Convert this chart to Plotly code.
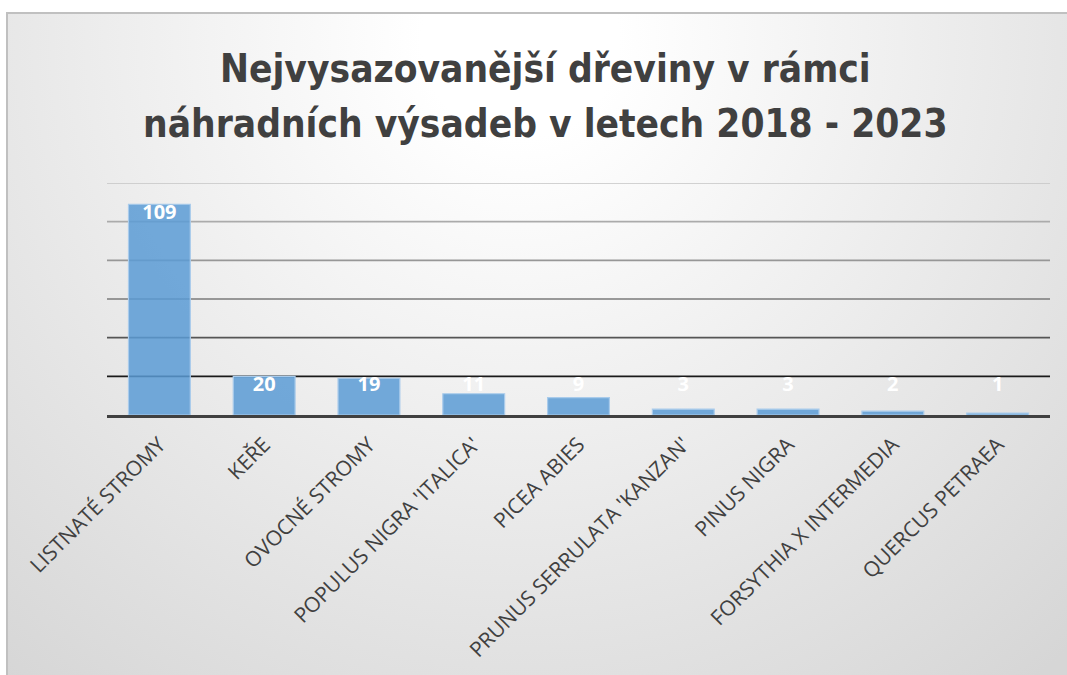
import base64
import numpy as np
import plotly.graph_objects as go

categories = ["LISTNATÉ STROMY", "KEŘE", "OVOCNÉ STROMY", "POPULUS NIGRA 'ITALICA'",
              "PICEA ABIES", "PRUNUS SERRULATA 'KANZAN'", "PINUS NIGRA",
              "FORSYTHIA X INTERMEDIA", "QUERCUS PETRAEA"]
values = [109, 20, 19, 11, 9, 3, 3, 2, 1]
grid_values = [20, 40, 60, 80, 100, 120]
grid_colors = ["#1a1a1a", "#555555", "#7a7a7a", "#979797", "#ababab", "#c4c4c4"]
title_lines = ["Nejvysazovanější dřeviny v rámci", "náhradních výsadeb v letech 2018 - 2023"]

W, H = 1067, 675
ML, MR, MT, MB = 107, 17, 183, 260
PW, PH = W - ML - MR, H - MT - MB

svg = f'''<svg xmlns="http://www.w3.org/2000/svg" width="{W}" height="{H}" viewBox="0 0 {W} {H}">
<defs><radialGradient id="g" gradientUnits="userSpaceOnUse" cx="520" cy="40" r="820">
<stop offset="0" stop-color="#ffffff"/><stop offset="0.12" stop-color="#ffffff"/>
<stop offset="1" stop-color="#d6d6d6"/></radialGradient></defs>
<rect x="0" y="0" width="{W}" height="{H}" fill="#ffffff"/>
<rect x="7" y="13" width="{W+20}" height="{H+20}" fill="url(#g)" stroke="#c0c0c0" stroke-width="2"/>
</svg>'''
src = "data:image/svg+xml;base64," + base64.b64encode(svg.encode()).decode()

fig = go.Figure()
fig.add_trace(go.Bar(
    x=categories, y=values,
    marker=dict(color="rgba(91,155,213,0.85)", line=dict(color="#a9cbeb", width=1.2)),
    hoverinfo="x+y",
))
label_y = np.maximum(np.array(values), 20)
fig.add_trace(go.Scatter(
    x=categories, y=label_y, mode="text", text=[str(v) for v in values],
    textposition="bottom center",
    textfont=dict(family="Open Sans", size=20, color="#ffffff", weight="bold"),
    hoverinfo="skip", cliponaxis=False,
))

for gv, gc in zip(grid_values, grid_colors):
    fig.add_shape(type="line", xref="paper", yref="y", x0=0, x1=1, y0=gv, y1=gv,
                  line=dict(color=gc, width=1.6), layer="below")

fig.add_layout_image(dict(source=src, xref="paper", yref="paper",
                          x=-ML / PW, y=1 + MT / PH, sizex=W / PW, sizey=H / PH,
                          xanchor="left", yanchor="top", sizing="stretch", layer="below"))

title_font = dict(family="Liberation Sans Narrow, Arial Narrow, DejaVu Sans Condensed, Roboto",
                  size=38.5, color="#404040", weight="bold")
for line, cy in zip(title_lines, [68, 124]):
    fig.add_annotation(text=line, xref="paper", yref="paper",
                       x=(545 - ML) / PW, y=1 + (MT - cy) / PH, xanchor="center", yanchor="middle",
                       showarrow=False, align="center", font=title_font)

fig.update_layout(
    width=W, height=H, margin=dict(l=ML, r=MR, t=MT, b=MB),
    paper_bgcolor="rgba(0,0,0,0)", plot_bgcolor="rgba(0,0,0,0)",
    showlegend=False, bargap=0.41,
    xaxis=dict(tickangle=-45, showline=True, linecolor="#404040", linewidth=3,
               ticks="", showgrid=False, ticklabelstandoff=6,
               tickfont=dict(family="Open Sans", size=21, color="#404040")),
    yaxis=dict(range=[0, 120], showgrid=False, zeroline=False, showticklabels=False, ticks=""),
)
fig.write_html("out.html", config={"displayModeBar": False},
               post_script="document.body.style.margin='0';document.body.style.overflow='hidden';")
